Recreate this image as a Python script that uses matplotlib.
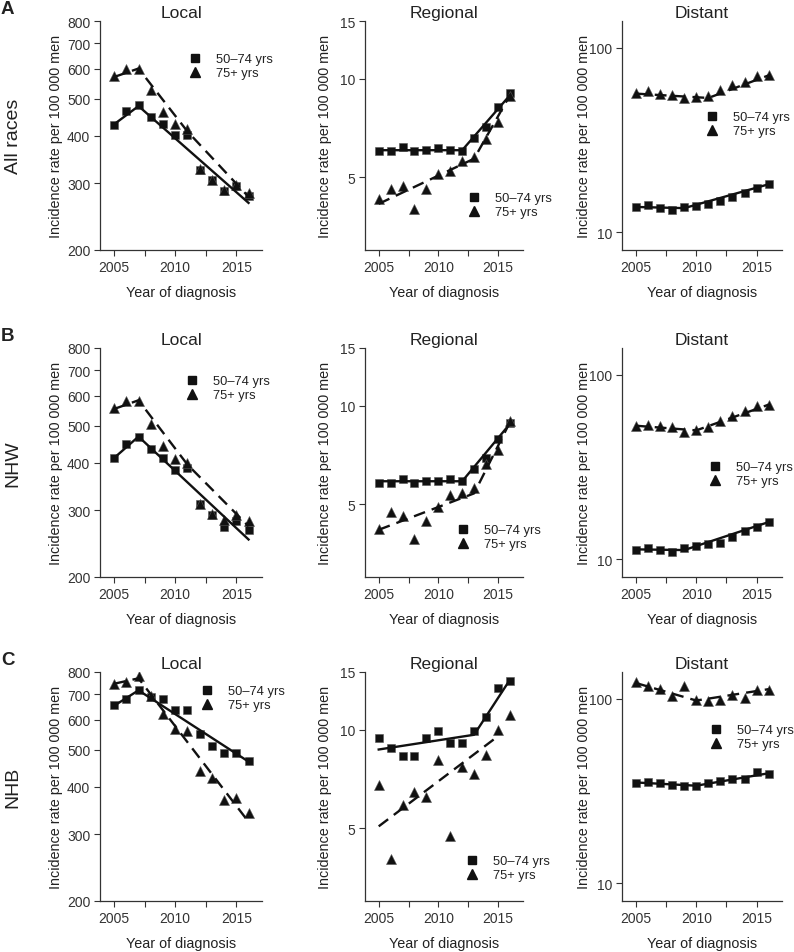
import numpy as np
import matplotlib
matplotlib.use("Agg")
import matplotlib.pyplot as plt
from matplotlib.lines import Line2D
from matplotlib.ticker import FixedLocator, NullLocator, FixedFormatter

plt.rcParams["font.family"] = ["Liberation Sans", "DejaVu Sans"]

############### Data ###############

years = list(range(2005, 2017))

# All races
all_local_5074 = [425, 463, 480, 448, 429, 401, 402, 325, 306, 285, 294, 278]
all_local_75 = [572, 597, 600, 527, 461, 428, 416, 327, 305, 287, 297, 283]
all_reg_5074 = [6.0, 6.0, 6.18, 6.0, 6.06, 6.16, 6.06, 6.0, 6.61, 7.1, 8.19, 9.04]
all_reg_75 = [4.3, 4.6, 4.7, 4.0, 4.6, 5.12, 5.24, 5.62, 5.76, 6.54, 7.35, 8.87]
all_dist_5074 = [13.7, 13.96, 13.56, 13.2, 13.67, 13.85, 14.3, 14.68, 15.6, 16.4, 17.3, 18.3]
all_dist_75 = [56.9, 58.4, 56.2, 55.5, 53.5, 53.9, 54.5, 58.9, 63.2, 65.6, 70.2, 71.3]

# NHW
nhw_local_5074 = [411, 448, 468, 434, 411, 383, 386, 311, 291, 270, 280, 266]
nhw_local_75 = [556, 581, 581, 505, 441, 409, 400, 312, 292, 282, 291, 280]
nhw_reg_5074 = [5.81, 5.81, 5.96, 5.81, 5.89, 5.89, 5.96, 5.89, 6.41, 6.91, 7.89, 8.85]
nhw_reg_75 = [4.21, 4.74, 4.6, 3.93, 4.44, 4.92, 5.33, 5.41, 5.61, 6.62, 7.32, 9.0]
nhw_dist_5074 = [11.2, 11.5, 11.2, 10.9, 11.5, 11.8, 12.1, 12.3, 13.2, 14.2, 14.9, 16.0]
nhw_dist_75 = [52.7, 53.8, 52.5, 52.0, 49.3, 50.5, 52.0, 56.1, 60.2, 64.0, 67.6, 69.0]

# NHB
nhb_local_5074 = [654, 681, 716, 689, 678, 634, 634, 548, 510, 489, 490, 466]
nhb_local_75 = [746, 753, 781, 690, 619, 568, 559, 439, 421, 368, 374, 341]
nhb_reg_5074 = [9.43, 8.81, 8.29, 8.29, 9.45, 9.9, 9.12, 9.1, 9.9, 10.9, 13.4, 14.06]
nhb_reg_75 = [6.8, 4.03, 5.89, 6.45, 6.22, 8.06, 4.73, 7.67, 7.33, 8.38, 10.0, 11.06]
nhb_dist_5074 = [34.9, 35.5, 35.0, 34.2, 33.6, 33.5, 34.8, 35.8, 36.7, 36.7, 40.0, 39.2]
nhb_dist_75 = [123.8, 117.7, 112.9, 103.8, 117.7, 98.3, 97.5, 98.3, 105.6, 101.3, 112.4, 112.0]

# joinpoint fits (years, values)
all_local_fit_5074 = ([2005, 2007, 2016], [428, 478, 266])
all_local_fit_75 = ([2005, 2007, 2011, 2016], [570, 600, 410, 276])
all_reg_fit_5074 = ([2005, 2012, 2016], [6.05, 6.05, 8.9])
all_reg_fit_75 = ([2005, 2013, 2016], [4.15, 5.7, 8.9])
all_dist_fit_5074 = ([2005, 2009, 2016], [13.7, 13.5, 18.2])
all_dist_fit_75 = ([2005, 2011, 2016], [56.5, 53.5, 71])

nhw_local_fit_5074 = ([2005, 2007, 2016], [411, 468, 251])
nhw_local_fit_75 = ([2005, 2007, 2011, 2016], [553, 583, 395, 272])
nhw_reg_fit_5074 = ([2005, 2012, 2016], [5.88, 5.88, 8.8])
nhw_reg_fit_75 = ([2005, 2013, 2016], [4.18, 5.4, 8.9])
nhw_dist_fit_5074 = ([2005, 2009, 2016], [11.3, 11.2, 15.9])
nhw_dist_fit_75 = ([2005, 2010, 2016], [53, 50, 69])

nhb_local_fit_5074 = ([2005, 2007, 2016], [652, 716, 465])
nhb_local_fit_75 = ([2005, 2007, 2016], [745, 770, 323])
nhb_reg_fit_5074 = ([2005, 2013, 2016], [8.7, 9.65, 14.2])
nhb_reg_fit_75 = ([2005, 2015], [5.07, 9.55])
nhb_dist_fit_5074 = ([2005, 2010, 2016], [35.2, 33.8, 39.5])
nhb_dist_fit_75 = ([2005, 2010, 2016], [122, 98, 113])

stages = ["Local", "Regional", "Distant"]
races = ["All races", "NHW", "NHB"]
panel_letters = ["A", "B", "C"]

series_5074 = [[all_local_5074, all_reg_5074, all_dist_5074],
               [nhw_local_5074, nhw_reg_5074, nhw_dist_5074],
               [nhb_local_5074, nhb_reg_5074, nhb_dist_5074]]
series_75 = [[all_local_75, all_reg_75, all_dist_75],
             [nhw_local_75, nhw_reg_75, nhw_dist_75],
             [nhb_local_75, nhb_reg_75, nhb_dist_75]]
fits_5074 = [[all_local_fit_5074, all_reg_fit_5074, all_dist_fit_5074],
             [nhw_local_fit_5074, nhw_reg_fit_5074, nhw_dist_fit_5074],
             [nhb_local_fit_5074, nhb_reg_fit_5074, nhb_dist_fit_5074]]
fits_75 = [[all_local_fit_75, all_reg_fit_75, all_dist_fit_75],
           [nhw_local_fit_75, nhw_reg_fit_75, nhw_dist_fit_75],
           [nhb_local_fit_75, nhb_reg_fit_75, nhb_dist_fit_75]]

ylims = [(200, 800), (3, 15), (8, 140)]
yticks = [[200, 300, 400, 500, 600, 700, 800], [5, 10, 15], [10, 100]]

############### Layout (pixels) ###############
W, H = 794, 953
col_left = [100, 365, 622]
col_w = [162, 158, 160]
row_top = [22, 349, 673]
row_h = 229
ylab_off = [37, 33, 31]

# legend marker positions (pixels, centre of first marker)
legend_pos = [[(195, 57), (474, 196), (712, 115)],
              [(192, 379), (463, 528), (715, 465)],
              [(207, 689), (472, 859), (716, 728)]]

ink = "#111111"
txt = "#222222"
fs_tick = 10
fs_lab = 10.4
fs_leg = 9.3

fig = plt.figure(figsize=(W / 100, H / 100), dpi=100)

for r in range(3):
    for c in range(3):
        l = col_left[c] / W
        b = 1 - (row_top[r] + row_h) / H
        ax = fig.add_axes([l, b, col_w[c] / W, row_h / H])
        ax.set_yscale("log")

        ax.plot(years, series_5074[r][c], "s", color=ink, ms=6.3, mec="#555555", mew=0.4, zorder=3)
        ax.plot(years, series_75[r][c], "^", color=ink, ms=7.5, mec="#555555", mew=0.4, zorder=3)
        fx, fy = fits_5074[r][c]
        ax.plot(fx, fy, "-", color=ink, lw=1.7, zorder=4)
        fx, fy = fits_75[r][c]
        ax.plot(fx, fy, color=ink, lw=1.7, ls=(0, (5, 3)), zorder=4)

        ax.set_xlim(2003.85, 2017.1)
        ax.set_ylim(*ylims[c])
        ax.yaxis.set_major_locator(FixedLocator(yticks[c]))
        ax.yaxis.set_major_formatter(FixedFormatter([str(t) for t in yticks[c]]))
        ax.yaxis.set_minor_locator(NullLocator())
        ax.set_xticks([2005, 2007.5, 2010, 2012.5, 2015])
        ax.set_xticklabels(["2005", "", "2010", "", "2015"])
        ax.tick_params(direction="out", length=4, width=0.8, colors="#333333",
                       labelsize=fs_tick, labelcolor="#333333", pad=3)

        for side in ["top", "right"]:
            ax.spines[side].set_visible(False)
        for side in ["left", "bottom"]:
            ax.spines[side].set_color("#333333")
            ax.spines[side].set_linewidth(0.9)

        ax.set_title(stages[c], fontsize=12.5, color=txt, pad=3)
        ax.set_ylabel("Incidence rate per 100 000 men", fontsize=fs_lab, color=txt)
        ax.yaxis.set_label_coords(-ylab_off[c] / col_w[c], 0.5)
        ax.set_xlabel("Year of diagnosis", fontsize=fs_lab, color=txt)
        ax.xaxis.set_label_coords(0.5, -35 / row_h)

        # legend
        mx, my = legend_pos[r][c]
        handles = [Line2D([], [], ls="none", marker="s", color=ink, ms=6.3),
                   Line2D([], [], ls="none", marker="^", color=ink, ms=7.5)]
        fpx = fs_leg * 100 / 72
        leg = ax.legend(handles, ["50\u201374 yrs", "75+ yrs"], loc="upper left",
                        bbox_to_anchor=((mx - 0.5 * fpx) / W, 1 - (my - 0.6 * fpx + 5) / H),
                        bbox_transform=fig.transFigure, frameon=False,
                        fontsize=fs_leg, handlelength=1.0, handletextpad=1.1,
                        labelspacing=0.15, borderpad=0, borderaxespad=0)
        for t in leg.get_texts():
            t.set_color(txt)

    # row label and panel letter
    yc = 1 - (row_top[r] + row_h / 2) / H
    fig.text(13 / W, yc, races[r], rotation=90, fontsize=14, color=txt,
             ha="center", va="center")
    fig.text(1 / W, 1 - (row_top[r] - 12) / H, panel_letters[r], fontsize=13.5,
             fontweight="bold", color=txt, ha="left", va="center")

fig.savefig("out.png", dpi=100)
